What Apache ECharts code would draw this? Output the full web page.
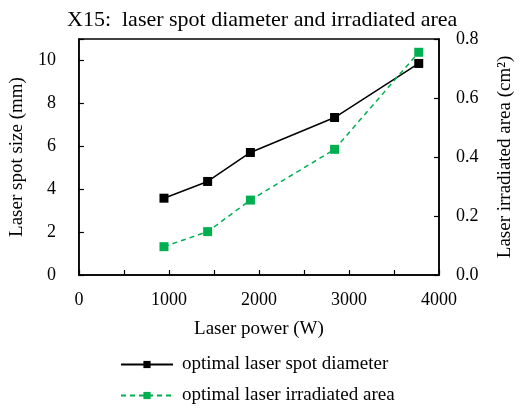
<!DOCTYPE html>
<html><head><meta charset="utf-8">
<script src="https://cdn.jsdelivr.net/npm/echarts@6/dist/echarts.min.js"></script>
<style>html,body{margin:0;padding:0;background:#fff}#c{width:523px;height:408px}</style>
</head><body><div id="c"></div>
<script>
const power = [945, 1430, 1905, 2840, 3775];
const spotDiameter = [3.58, 4.36, 5.71, 7.34, 9.86];
const irradiatedArea = [0.096, 0.147, 0.254, 0.426, 0.755];
const seriesNames = ['optimal laser spot diameter', 'optimal laser irradiated area'];
const titleText = 'X15:  laser spot diameter and irradiated area';

const F = 'Liberation Serif';
const chart = echarts.init(document.getElementById('c'));
chart.setOption({
  backgroundColor: '#fff',
  animation: false,
  textStyle: {fontFamily: F, color: '#000'},
  title: {text: titleText, left: 62, top: 4,
    textStyle: {fontFamily: F, fontWeight: 'normal', fontSize: 22, color: '#000'}},
  grid: {left: 77, right: 80, top: 39, bottom: 133, show: true, borderColor: '#000', borderWidth: 1.5},
  legend: {orient: 'vertical', left: 120, top: 355, height: 53, padding: 0,
    itemWidth: 52, itemHeight: 9, itemGap: 12,
    textStyle: {fontFamily: F, fontSize: 19, color: '#000', padding: [0, 0, 0, 4]},
    data: seriesNames},
  xAxis: {type: 'value', min: 0, max: 4000, interval: 500,
    name: 'Laser power (W)', nameLocation: 'middle', nameGap: 45,
    nameTextStyle: {fontFamily: F, fontSize: 19, color: '#000'},
    axisLine: {lineStyle: {color: '#000', width: 1.5}},
    axisTick: {inside: true, length: 5, lineStyle: {color: '#000', width: 1.2}},
    axisLabel: {margin: 16, fontFamily: F, fontSize: 18, color: '#000',
      formatter: v => (v % 1000 === 0 ? String(v) : '')},
    splitLine: {show: false}},
  yAxis: [
    {type: 'value', min: 0, max: 11, interval: 2, position: 'left',
      name: 'Laser spot size (mm)', nameLocation: 'middle', nameGap: 44, nameRotate: 90,
      nameTextStyle: {fontFamily: F, fontSize: 19, color: '#000'},
      axisLine: {show: true, lineStyle: {color: '#000', width: 1.5}},
      axisTick: {show: true, inside: true, length: 5, lineStyle: {color: '#000', width: 1.2}},
      axisLabel: {margin: 23, fontFamily: F, fontSize: 18, color: '#000',
        formatter: v => (v % 2 === 0 ? String(v) : '')},
      splitLine: {show: false}},
    {type: 'value', min: 0, max: 0.8, interval: 0.2, position: 'right',
      name: 'Laser irradiated area (cm²)', nameLocation: 'middle', nameGap: 57, nameRotate: 90,
      nameTextStyle: {fontFamily: F, fontSize: 19, color: '#000'},
      axisLine: {show: true, lineStyle: {color: '#000', width: 1.5}},
      axisTick: {show: true, inside: true, length: 5, lineStyle: {color: '#000', width: 1.2}},
      axisLabel: {margin: 17, fontFamily: F, fontSize: 18, color: '#000',
        formatter: v => v.toFixed(1)},
      splitLine: {show: false}}
  ],
  series: [
    {name: seriesNames[0], type: 'line', yAxisIndex: 0,
      data: power.map((p, i) => [p, spotDiameter[i]]),
      symbol: 'rect', symbolSize: 9, color: '#000',
      lineStyle: {color: '#000', width: 1.5},
      itemStyle: {color: '#000'}},
    {name: seriesNames[1], type: 'line', yAxisIndex: 1,
      data: power.map((p, i) => [p, irradiatedArea[i]]),
      symbol: 'rect', symbolSize: 9, color: '#00B050',
      lineStyle: {color: '#00B050', width: 1.5, type: [5, 4]},
      itemStyle: {color: '#00B050'}}
  ]
});
</script></body></html>
